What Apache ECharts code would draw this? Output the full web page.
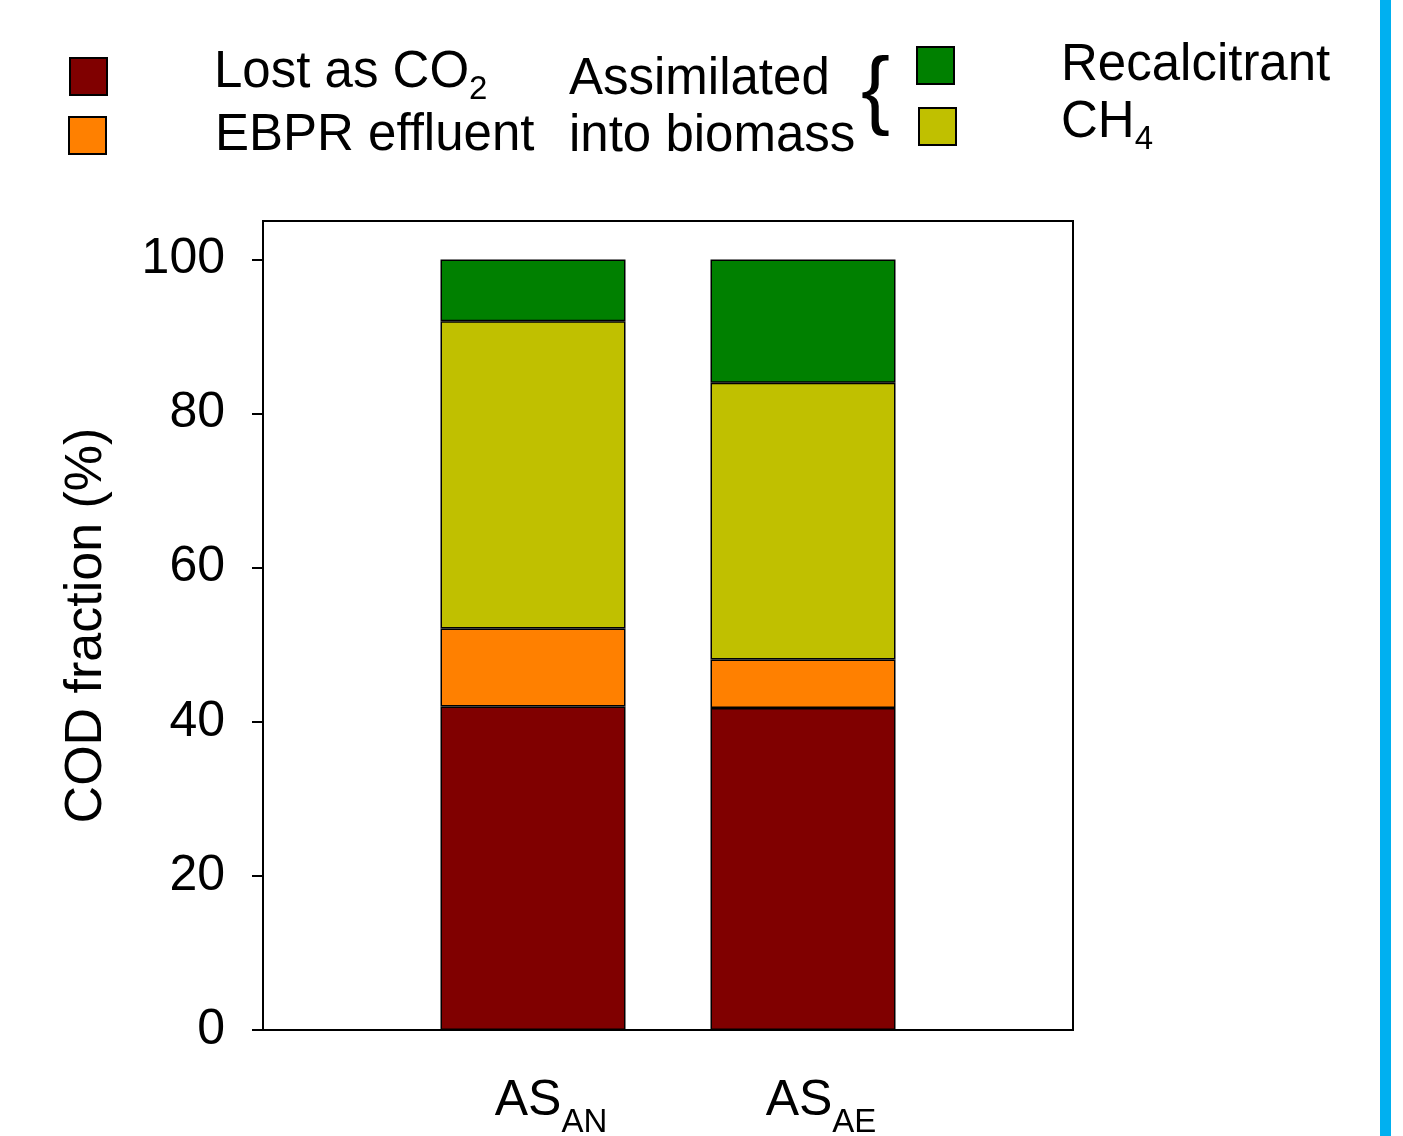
<!DOCTYPE html>
<html>
<head>
<meta charset="utf-8">
<script src="https://cdn.jsdelivr.net/npm/echarts@6/dist/echarts.min.js"></script>
<style>
html,body{margin:0;padding:0;background:#fff;}
#chart{width:1403px;height:1136px;}
</style>
</head>
<body>
<div id="chart"></div>
<script>
// ---- data ----
const categories = ['AS_AN', 'AS_AE'];
const lostCO2 = [42.0, 41.8];
const ebprEffluent = [10.1, 6.3];
const methane = [39.9, 35.9];
const recalcitrant = [8.0, 16.0];
const yTicks = [0, 20, 40, 60, 80, 100];

const FONT = '"Liberation Sans", Arial, sans-serif';
const colors = { lost: '#800000', ebpr: '#FF8000', ch4: '#C0C000', rec: '#008000' };

const chart = echarts.init(document.getElementById('chart'), null, { renderer: 'canvas' });

// empty slots on each side place the two bars where the original plot has them
const xCats = [''].concat(categories, ['']);
function pad(arr) { return [null].concat(arr, [null]); }

const barStyle = (c) => ({ color: c, borderColor: '#000', borderWidth: 1.5 });

function legendRich() {
  return {
    m: { fontFamily: FONT, fontSize: 51, color: '#000', verticalAlign: 'bottom', padding: [0, 0, 8, 0] },
    p: { fontFamily: FONT, fontSize: 51, color: '#000' },
    sub: { fontFamily: FONT, fontSize: 33, color: '#000', verticalAlign: 'bottom' }
  };
}

function makeLegend(name, color, left, top, gap) {
  return {
    left: left, top: top, orient: 'horizontal', padding: 0,
    itemWidth: 37, itemHeight: 37, icon: 'rect',
    selectedMode: false,
    data: [{ name: name, itemStyle: { color: color, borderColor: '#000', borderWidth: 2 } }],
    textStyle: { fontFamily: FONT, fontSize: 51, color: '#000', padding: [0, 0, 0, gap], rich: legendRich() },
    formatter: function (n) {
      if (n === 'Lost as CO2') return '{m|Lost as CO}{sub|2}';
      if (n === 'CH4') return '{m|CH}{sub|4}';
      return '{p|' + n + '}';
    }
  };
}

const option = {
  backgroundColor: '#fff',
  animation: false,
  textStyle: { fontFamily: FONT },
  legend: [
    makeLegend('Lost as CO2', colors.lost, 69, 47, 102),
    makeLegend('EBPR effluent', colors.ebpr, 68, 110, 104),
    makeLegend('Recalcitrant', colors.rec, 916, 40, 102),
    makeLegend('CH4', colors.ch4, 918, 97, 100)
  ],
  grid: {
    left: 263, top: 221, right: 330, bottom: 106,
    outerBoundsMode: 'none',
    show: true, borderColor: '#000', borderWidth: 2, backgroundColor: 'transparent'
  },
  xAxis: {
    type: 'category', data: xCats, boundaryGap: false,
    splitLine: { show: false },
    axisTick: { show: false },
    axisLine: { show: true, lineStyle: { color: '#000', width: 2 } },
    axisLabel: {
      interval: 0,
      margin: 46,
      padding: [0, 0, 0, 36],
      formatter: function (v) {
        if (!v) return '';
        const parts = v.split('_');
        return '{main|' + parts[0] + '}{sub|' + parts[1] + '}';
      },
      rich: {
        main: { fontFamily: FONT, fontSize: 50, color: '#000', verticalAlign: 'bottom', padding: [0, 0, 13, 0] },
        sub: { fontFamily: FONT, fontSize: 33, color: '#000', verticalAlign: 'bottom' }
      }
    }
  },
  yAxis: {
    type: 'value', min: 0, max: 105, interval: 20,
    name: 'COD fraction (%)',
    nameLocation: 'middle',
    nameGap: 150,
    nameRotate: 90,
    nameTextStyle: { fontFamily: FONT, fontSize: 52, color: '#000' },
    splitLine: { show: false },
    axisLine: { show: true, lineStyle: { color: '#000', width: 2 } },
    axisTick: { show: true, length: 11, lineStyle: { color: '#000', width: 2 }, customValues: yTicks },
    axisLabel: { customValues: yTicks, margin: 38, fontFamily: FONT, fontSize: 50, color: '#000' }
  },
  series: [
    { name: 'Lost as CO2', type: 'bar', stack: 'cod', barWidth: 185, data: pad(lostCO2), itemStyle: barStyle(colors.lost) },
    { name: 'EBPR effluent', type: 'bar', stack: 'cod', barWidth: 185, data: pad(ebprEffluent), itemStyle: barStyle(colors.ebpr) },
    { name: 'CH4', type: 'bar', stack: 'cod', barWidth: 185, data: pad(methane), itemStyle: barStyle(colors.ch4) },
    { name: 'Recalcitrant', type: 'bar', stack: 'cod', barWidth: 185, data: pad(recalcitrant), itemStyle: barStyle(colors.rec) }
  ],
  graphic: [
    { type: 'text', left: 569, top: 54, style: { text: 'Assimilated', font: '51px ' + FONT, fill: '#000' } },
    { type: 'text', left: 569, top: 111, style: { text: 'into biomass', font: '51px ' + FONT, fill: '#000' } },
    { type: 'text', left: 861, top: 51, style: { text: '{', font: '87px ' + FONT, fill: '#000' } },
    { type: 'rect', left: 1380, top: 0, shape: { width: 11, height: 1136 }, style: { fill: '#00B0F0' } }
  ]
};

chart.setOption(option);
</script>
</body>
</html>
